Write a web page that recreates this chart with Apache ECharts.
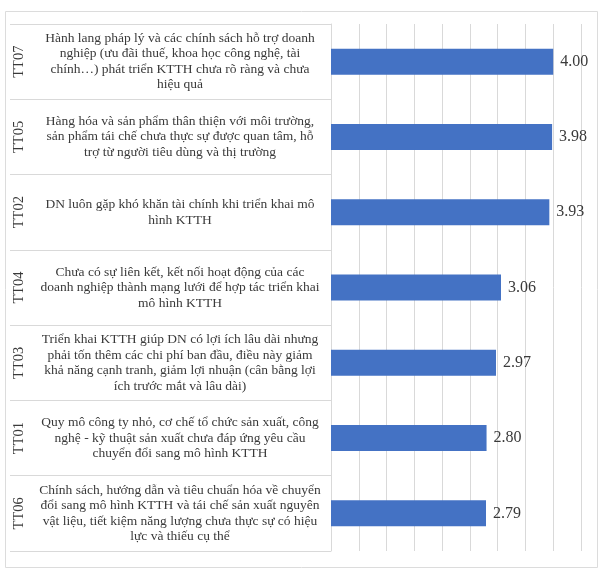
<!DOCTYPE html>
<html>
<head>
<meta charset="utf-8">
<script src="https://cdn.jsdelivr.net/npm/echarts@6/dist/echarts.min.js"></script>
<style>html,body{margin:0;padding:0;background:#fff}#c{width:600px;height:571px}</style>
</head>
<body>
<div id="c"></div>
<script>
var codes = ['TT07','TT05','TT02','TT04','TT03','TT01','TT06'];
var descriptions = [
  'Hành lang pháp lý và các chính sách hỗ trợ doanh\nnghiệp (ưu đãi thuế, khoa học công nghệ, tài\nchính…) phát triển KTTH chưa rõ ràng và chưa\nhiệu quả',
  'Hàng hóa và sản phẩm thân thiện với môi trường,\nsản phẩm tái chế chưa thực sự được quan tâm, hỗ\ntrợ từ người tiêu dùng và thị trường',
  'DN luôn gặp khó khăn tài chính khi triển khai mô\nhình KTTH',
  'Chưa có sự liên kết, kết nối hoạt động của các\ndoanh nghiệp thành mạng lưới để hợp tác triển khai\nmô hình KTTH',
  'Triển khai KTTH giúp DN có lợi ích lâu dài nhưng\nphải tốn thêm các chi phí ban đầu, điều này giảm\nkhả năng cạnh tranh, giảm lợi nhuận (cân bằng lợi\ních trước mắt và lâu dài)',
  'Quy mô công ty nhỏ, cơ chế tổ chức sản xuất, công\nnghệ - kỹ thuật sản xuất chưa đáp ứng yêu cầu\nchuyển đổi sang mô hình KTTH',
  'Chính sách, hướng dẫn và tiêu chuẩn hóa về chuyển\nđổi sang mô hình KTTH và tái chế sản xuất nguyên\nvật liệu, tiết kiệm năng lượng chưa thực sự có hiệu\nlực và thiếu cụ thể'
];
var values = [4.00, 3.98, 3.93, 3.06, 2.97, 2.80, 2.79];

var serif = '"Liberation Serif", "DejaVu Serif", serif';
var chart = echarts.init(document.getElementById('c'), null, {renderer: 'canvas'});
chart.setOption({
  animation: false,
  backgroundColor: '#ffffff',
  graphic: [{
    type: 'rect', left: 3, top: 9, z: -1,
    shape: {width: 592, height: 556},
    style: {fill: 'none', stroke: '#dcdcdc', lineWidth: 1}
  }],
  grid: {left: 331, right: 19, top: 24, bottom: 20, containLabel: false},
  xAxis: {
    type: 'value', min: 0, max: 4.5, interval: 0.5,
    axisLabel: {show: false}, axisLine: {show: false}, axisTick: {show: false},
    splitLine: {show: true, lineStyle: {color: '#d9d9d9', width: 1}}
  },
  yAxis: [{
    type: 'category', inverse: true, data: codes, position: 'left',
    axisLine: {show: true, lineStyle: {color: '#d9d9d9'}},
    axisTick: {show: true, length: 321, lineStyle: {color: '#d9d9d9'}},
    axisLabel: {
      margin: 151, align: 'center',
      fontFamily: serif, fontSize: 13.5, lineHeight: 15.5, color: '#3a3a3a',
      formatter: function (v, i) { return descriptions[codes.indexOf(v)]; }
    }
  }, {
    type: 'category', inverse: true, data: codes, position: 'left',
    axisLine: {show: false}, axisTick: {show: false},
    axisLabel: {
      rotate: 90, margin: 304,
      fontFamily: serif, fontSize: 14.5, color: '#3a3a3a'
    }
  }],
  series: [{
    type: 'bar', yAxisIndex: 0, data: values,
    barWidth: 26,
    itemStyle: {color: '#4472C4'},
    label: {
      show: true, position: 'right', distance: 7,
      fontFamily: serif, fontSize: 16, color: '#3a3a3a',
      formatter: function (p) { return p.value.toFixed(2); }
    }
  }]
});
</script>
</body>
</html>
